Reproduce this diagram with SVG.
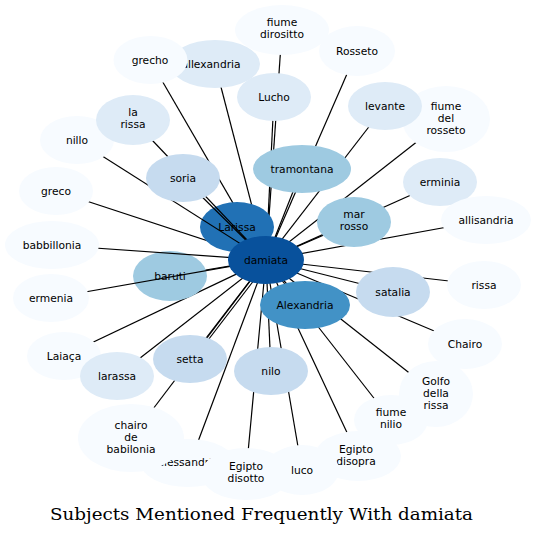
<svg xmlns="http://www.w3.org/2000/svg" width="536" height="535" viewBox="0 0 536 535">
<style>
.e{stroke:#000;stroke-width:1.2;fill:none}
.c0{fill:#f7fbff}.c1{fill:#deebf7}.c2{fill:#c6dbef}.c3{fill:#9ecae1}.c4{fill:#4292c6}.c5{fill:#2171b5}.c6{fill:#08519c}
text{font-family:"DejaVu Sans","Noto Sans",sans-serif;font-size:10.7px;fill:#000;text-anchor:middle}
.title{font-family:"DejaVu Serif","Liberation Serif",serif;font-size:17px}
</style>
<rect width="536" height="535" fill="#fff"/>
<g id="connectors">
<line class="e" x1="237" y1="227" x2="266" y2="260"/>
<line class="e" x1="305" y1="305" x2="266" y2="260"/>
<line class="e" x1="302" y1="169" x2="266" y2="260"/>
<line class="e" x1="354" y1="222" x2="266" y2="260"/>
<line class="e" x1="170" y1="276" x2="266" y2="260"/>
<line class="e" x1="393" y1="292" x2="266" y2="260"/>
<line class="e" x1="190" y1="359" x2="266" y2="260"/>
<line class="e" x1="192" y1="361" x2="268" y2="262"/>
<line class="e" x1="271" y1="371" x2="266" y2="260"/>
<line class="e" x1="274" y1="97" x2="266" y2="260"/>
<line class="e" x1="385" y1="106" x2="266" y2="260"/>
<line class="e" x1="215" y1="64" x2="266" y2="260"/>
<line class="e" x1="440" y1="182" x2="266" y2="260"/>
<line class="e" x1="117" y1="376" x2="266" y2="260"/>
<line class="e" x1="150" y1="60" x2="266" y2="260"/>
<line class="e" x1="282" y1="30" x2="266" y2="260"/>
<line class="e" x1="357" y1="51" x2="266" y2="260"/>
<line class="e" x1="446" y1="119" x2="266" y2="260"/>
<line class="e" x1="56" y1="191" x2="266" y2="260"/>
<line class="e" x1="486" y1="220" x2="266" y2="260"/>
<line class="e" x1="484" y1="285" x2="266" y2="260"/>
<line class="e" x1="465" y1="344" x2="266" y2="260"/>
<line class="e" x1="436" y1="394" x2="266" y2="260"/>
<line class="e" x1="391" y1="420" x2="266" y2="260"/>
<line class="e" x1="358" y1="456" x2="266" y2="260"/>
<line class="e" x1="302" y1="470" x2="266" y2="260"/>
<line class="e" x1="246" y1="474" x2="266" y2="260"/>
<line class="e" x1="190" y1="463" x2="266" y2="260"/>
<line class="e" x1="131" y1="438" x2="266" y2="260"/>
<line class="e" x1="64" y1="356" x2="266" y2="260"/>
</g>
<g id="n-fiume-dirositto"><ellipse class="c0" cx="282" cy="30" rx="47" ry="25"/><text x="282" y="26">fiume<tspan x="282" dy="12">dirositto</tspan></text></g>
<g id="n-allexandria"><ellipse class="c1" cx="215" cy="64" rx="45" ry="24"/><text x="211" y="67.7">allexandria</text></g>
<g id="n-grecho"><ellipse class="c0" cx="150.5" cy="60" rx="37" ry="24"/><text x="150" y="63.7">grecho</text></g>
<g id="n-Lucho"><ellipse class="c1" cx="274" cy="97" rx="37" ry="24"/><text x="274" y="100.7">Lucho</text></g>
<g id="n-Rosseto"><ellipse class="c0" cx="357" cy="51" rx="38" ry="25"/><text x="357" y="54.7">Rosseto</text></g>
<g id="n-fiume-del-rosseto"><ellipse class="c0" cx="446" cy="119" rx="44" ry="33"/><text x="446" y="110">fiume<tspan x="446" dy="12">del</tspan><tspan x="446" dy="12">rosseto</tspan></text></g>
<g id="n-levante"><ellipse class="c1" cx="385" cy="106" rx="37" ry="24"/><text x="385" y="109.7">levante</text></g>
<g id="n-Larissa"><ellipse class="c5" cx="237" cy="227" rx="37" ry="25"/><text x="237" y="230.7">Larissa</text></g>
<g id="n-Alexandria"><ellipse class="c4" cx="305" cy="305" rx="45" ry="24"/><text x="305" y="308.7">Alexandria</text></g>
<g id="n-tramontana"><ellipse class="c3" cx="302" cy="169" rx="49" ry="24"/><text x="302" y="172.7">tramontana</text></g>
<g id="n-mar-rosso"><ellipse class="c3" cx="354" cy="222" rx="37" ry="25"/><text x="354" y="218">mar<tspan x="354" dy="12">rosso</tspan></text></g>
<g id="n-erminia"><ellipse class="c1" cx="440" cy="182" rx="37" ry="24"/><text x="440" y="185.7">erminia</text></g>
<g id="n-allisandria"><ellipse class="c0" cx="486" cy="220" rx="45" ry="24"/><text x="486" y="223.7">allisandria</text></g>
<g id="n-greco"><ellipse class="c0" cx="56" cy="191" rx="37" ry="24"/><text x="56" y="194.7">greco</text></g>
<g id="n-baruti"><ellipse class="c3" cx="170" cy="276" rx="37" ry="25"/><text x="170" y="279.7">baruti</text></g>
<g id="n-satalia"><ellipse class="c2" cx="393" cy="292" rx="37" ry="25"/><text x="393" y="295.7">satalia</text></g>
<g id="n-rissa"><ellipse class="c0" cx="484" cy="285" rx="37" ry="24"/><text x="484" y="288.7">rissa</text></g>
<g id="n-Chairo"><ellipse class="c0" cx="465" cy="344" rx="37" ry="25"/><text x="465" y="347.7">Chairo</text></g>
<g id="n-Golfo-della-rissa"><ellipse class="c0" cx="436" cy="394" rx="37" ry="33"/><text x="436" y="385">Golfo<tspan x="436" dy="12">della</tspan><tspan x="436" dy="12">rissa</tspan></text></g>
<g id="n-fiume-nilio"><ellipse class="c0" cx="391" cy="420" rx="37" ry="25"/><text x="391" y="416">fiume<tspan x="391" dy="12">nilio</tspan></text></g>
<g id="n-Egipto-disopra"><ellipse class="c0" cx="358" cy="456" rx="43" ry="25"/><text x="356" y="453">Egipto<tspan x="356" dy="12">disopra</tspan></text></g>
<g id="n-nilo"><ellipse class="c2" cx="271" cy="371" rx="37" ry="24"/><text x="271" y="374.7">nilo</text></g>
<g id="n-alessandria"><ellipse class="c0" cx="188" cy="463" rx="47" ry="24"/><text x="188" y="466">alessandria</text></g>
<g id="n-chairo-de-babilonia"><ellipse class="c0" cx="131" cy="438" rx="53" ry="34"/><text x="131" y="429">chairo<tspan x="131" dy="12">de</tspan><tspan x="131" dy="12">babilonia</tspan></text></g>
<g id="n-Egipto-disotto"><ellipse class="c0" cx="246" cy="474" rx="45" ry="26"/><text x="246" y="470">Egipto<tspan x="246" dy="12">disotto</tspan></text></g>
<g id="n-luco"><ellipse class="c0" cx="302" cy="470" rx="37" ry="25"/><text x="302" y="473.7">luco</text></g>
<g id="n-setta"><ellipse class="c2" cx="190" cy="359" rx="37" ry="24"/><text x="190" y="362.7">setta</text></g>
<g id="n-Laiaca"><ellipse class="c0" cx="64" cy="356" rx="37" ry="24"/><text x="64" y="359.7">Laiaça</text></g>
<g id="n-larassa"><ellipse class="c1" cx="117" cy="376" rx="37" ry="24"/><text x="117" y="379.7">larassa</text></g>
<g id="connectors-over">
<line class="e" x1="77" y1="140" x2="266" y2="260"/>
<line class="e" x1="183" y1="178" x2="266" y2="260"/>
<line class="e" x1="133" y1="120" x2="266" y2="260"/>
<line class="e" x1="51" y1="298" x2="266" y2="260"/>
<line class="e" x1="52" y1="245" x2="266" y2="260"/>
</g>
<g id="n-nillo"><ellipse class="c0" cx="77" cy="140" rx="37" ry="24"/><text x="77" y="143.7">nillo</text></g>
<g id="n-la-rissa"><ellipse class="c1" cx="133" cy="120" rx="37" ry="25"/><text x="133" y="116">la<tspan x="133" dy="12">rissa</tspan></text></g>
<g id="n-soria"><ellipse class="c2" cx="183" cy="178" rx="37" ry="24"/><text x="183" y="181.7">soria</text></g>
<g id="n-babbillonia"><ellipse class="c0" cx="52" cy="245" rx="47" ry="24"/><text x="52" y="248.7">babbillonia</text></g>
<g id="n-ermenia"><ellipse class="c0" cx="51" cy="298" rx="38" ry="24"/><text x="51" y="301.7">ermenia</text></g>
<g id="n-damiata"><ellipse class="c6" cx="266" cy="260" rx="38" ry="24"/><text x="266" y="263.7">damiata</text></g>
<text class="title" x="261.5" y="520" textLength="423" lengthAdjust="spacingAndGlyphs">Subjects Mentioned Frequently With damiata</text>
</svg>
